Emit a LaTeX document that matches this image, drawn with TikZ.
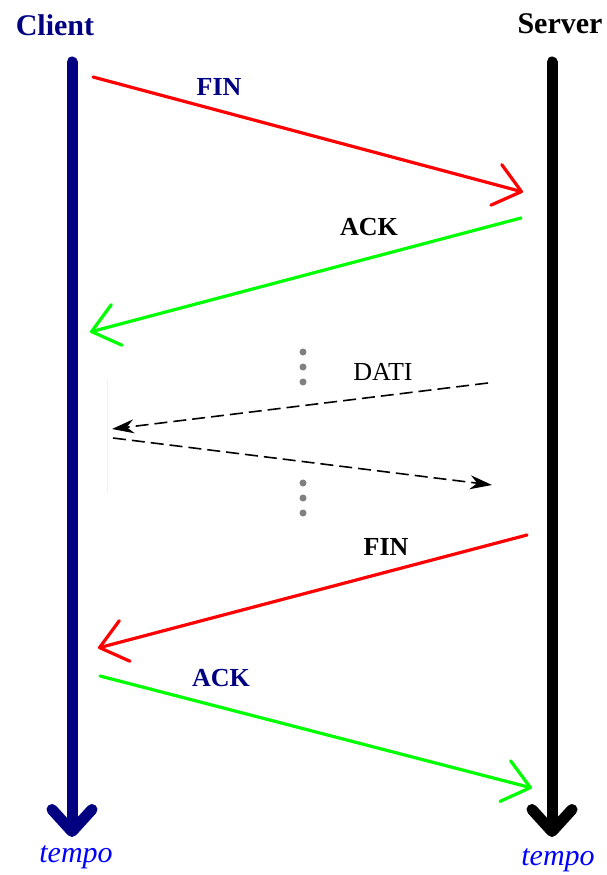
\documentclass[tikz,border=0pt]{standalone}
\usepackage{fontspec}
\setmainfont{Liberation Serif}
\usetikzlibrary{arrows.meta}
\definecolor{navy}{RGB}{0,0,128}
\definecolor{msgred}{RGB}{255,0,0}
\definecolor{msggreen}{RGB}{0,255,0}
\definecolor{timeblue}{RGB}{0,0,255}
\definecolor{dotgray}{RGB}{128,128,128}
\begin{document}
\begin{tikzpicture}[x=1pt,y=-1pt,
  lifeline/.style={line width=11pt,line cap=round,
    -{Straight Barb[length=22pt,width=40pt,round]}},
  message/.style={line width=3.2pt,line cap=round,
    -{Straight Barb[length=26pt,width=42pt,round]}},
  datamsg/.style={line width=1.6pt,dash pattern=on 13pt off 6pt,
    -{Stealth[length=22pt,width=14pt]}},
  hostlabel/.style={font=\bfseries\fontsize{30}{34}\selectfont,inner sep=0pt},
  msglabel/.style={font=\bfseries\fontsize{26}{30}\selectfont,inner sep=0pt},
  timelabel/.style={font=\itshape\fontsize{30}{34}\selectfont,text=timeblue,inner sep=0pt},
  vdot/.style={circle,fill=dotgray,inner sep=0pt,minimum size=7pt}]
\useasboundingbox (0,0) rectangle (607,875);

% hosts and their time axes
\node[hostlabel,text=navy] (client) at (55,25) {Client};
\node[hostlabel] (server) at (560,24) {Server};
\coordinate (ctop) at (72,62);
\coordinate (cbot) at (72,837);
\coordinate (stop) at (552,62);
\coordinate (sbot) at (552,837);
\draw[lifeline,navy] (ctop) -- (cbot);
\draw[lifeline,black] (stop) -- (sbot);
\node[timelabel] (ctime) at (76,857) {tempo};
\node[timelabel] (stime) at (558,860) {tempo};

% message end points
\coordinate (fin1a) at (93,77);   \coordinate (fin1b) at (523,192);
\coordinate (ack1a) at (521,218); \coordinate (ack1b) at (90,332);
\coordinate (dat1a) at (488,383); \coordinate (dat1b) at (112,429);
\coordinate (dat2a) at (113,438); \coordinate (dat2b) at (492,485);
\coordinate (fin2a) at (527,535); \coordinate (fin2b) at (98,648);
\coordinate (ack2a) at (100,676); \coordinate (ack2b) at (532,788);

% connection release and data exchange
\draw[message,msgred] (fin1a) -- (fin1b);
\draw[message,msggreen] (ack1a) -- (ack1b);
\draw[datamsg] (dat1a) -- (dat1b);
\draw[datamsg] (dat2a) -- (dat2b);
\draw[message,msgred] (fin2a) -- (fin2b);
\draw[message,msggreen] (ack2a) -- (ack2b);

% faint edge of the data block
\coordinate (edgetop) at (107,378);
\coordinate (edgebot) at (107,494);
\draw[gray!10,line width=1pt] (edgetop) -- (edgebot);

% message labels
\node[msglabel,text=navy] (lfin1) at (219,87) {FIN};
\node[msglabel] (lack1) at (369,227) {ACK};
\node[inner sep=0pt,font=\fontsize{26}{30}\selectfont] (ldati) at (383,372) {DATI};
\node[msglabel] (lfin2) at (386,547) {FIN};
\node[msglabel,text=navy] (lack2) at (221,678) {ACK};

% ellipsis dots
\foreach \y [count=\i] in {352,367,382,483,498,513}
  \node[vdot] (dot\i) at (303,\y) {};
\end{tikzpicture}
\end{document}
